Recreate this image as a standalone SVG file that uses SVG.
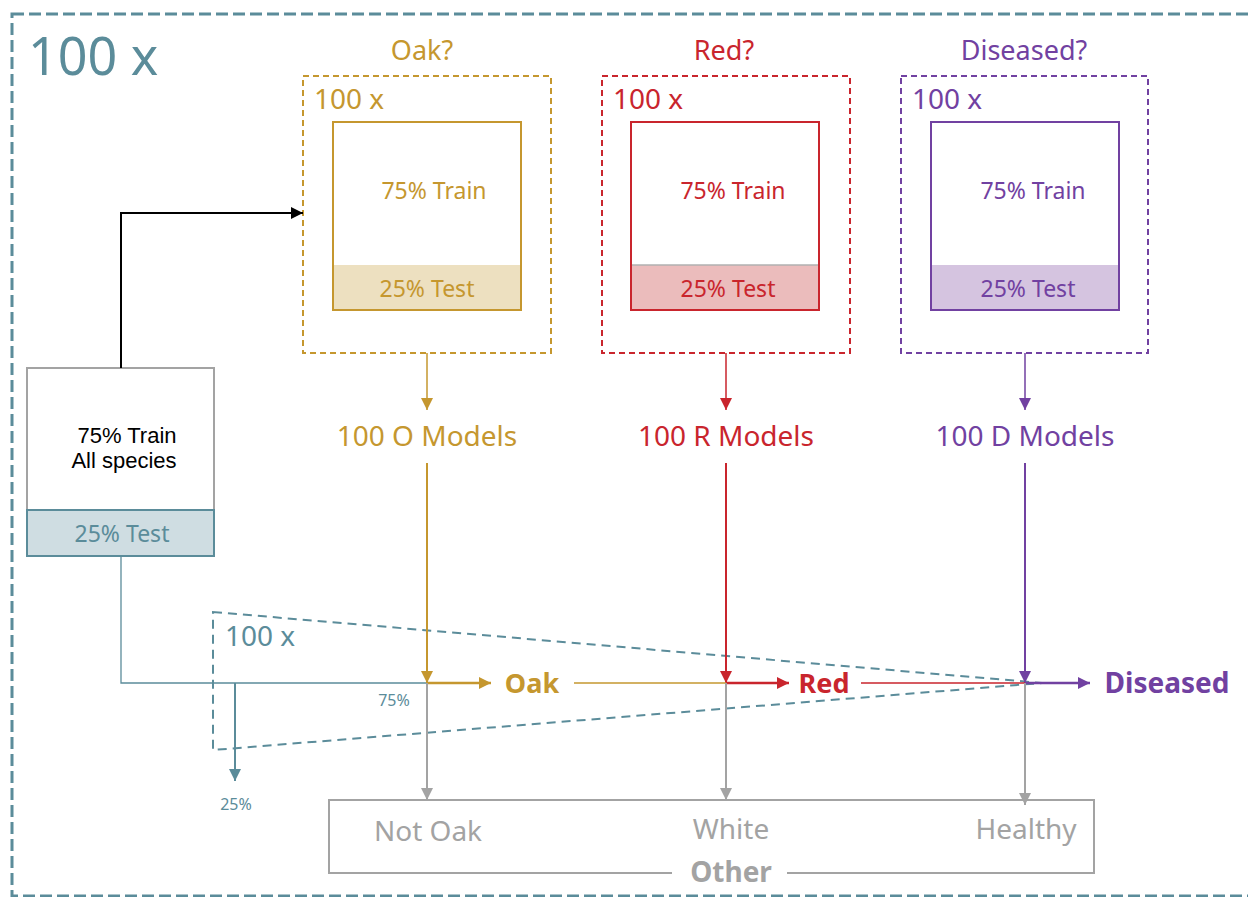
<svg xmlns="http://www.w3.org/2000/svg" width="1248" height="897" viewBox="0 0 1248 897">
<defs>
<style>
text{font-family:"Noto Sans","Open Sans",sans-serif;}
.teal{fill:#5b8c9a}.gold{fill:#c5972f}.red{fill:#c9252d}.pur{fill:#7141a1}.gry{fill:#a3a3a3}
.b{font-weight:bold}
.dash{fill:none;stroke-width:2;stroke-dasharray:6 4}
.inner{fill:#fff;stroke-width:2}
</style>
<marker id="aK" markerUnits="userSpaceOnUse" markerWidth="12" markerHeight="12" viewBox="0 0 12 12" refX="12" refY="6" orient="auto"><path d="M0,0L12,6L0,12z" fill="#000"/></marker>
<marker id="aG" markerUnits="userSpaceOnUse" markerWidth="12" markerHeight="12" viewBox="0 0 12 12" refX="12" refY="6" orient="auto"><path d="M0,0L12,6L0,12z" fill="#c5972f"/></marker>
<marker id="aR" markerUnits="userSpaceOnUse" markerWidth="12" markerHeight="12" viewBox="0 0 12 12" refX="12" refY="6" orient="auto"><path d="M0,0L12,6L0,12z" fill="#c9252d"/></marker>
<marker id="aP" markerUnits="userSpaceOnUse" markerWidth="12" markerHeight="12" viewBox="0 0 12 12" refX="12" refY="6" orient="auto"><path d="M0,0L12,6L0,12z" fill="#7141a1"/></marker>
<marker id="aT" markerUnits="userSpaceOnUse" markerWidth="12" markerHeight="12" viewBox="0 0 12 12" refX="12" refY="6" orient="auto"><path d="M0,0L12,6L0,12z" fill="#5b8c9a"/></marker>
<marker id="aY" markerUnits="userSpaceOnUse" markerWidth="12" markerHeight="12" viewBox="0 0 12 12" refX="12" refY="6" orient="auto"><path d="M0,0L12,6L0,12z" fill="#a3a3a3"/></marker>
</defs>
<rect width="1248" height="897" fill="#fff"/>

<g id="outer-frame">
<rect x="12" y="14" width="1262" height="882" fill="none" stroke="#5b8c9a" stroke-width="3" stroke-dasharray="12 5"/>
<text x="28" y="75" class="teal" font-size="52">100 x</text>
</g>

<g id="loop-frame">
<path d="M213,612 L1042,683 L213,750 Z" fill="none" stroke="#5b8c9a" stroke-width="2" stroke-dasharray="9 6"/>
<text x="225" y="646" class="teal" font-size="28">100 x</text>
</g>

<g id="oak-node">
<text x="422" y="60" class="gold" font-size="27" text-anchor="middle">Oak?</text>
<rect x="303" y="76" width="248" height="277" class="dash" stroke="#c5972f"/>
<text x="314" y="109" class="gold" font-size="28">100 x</text>
<rect x="333" y="122" width="188" height="188" class="inner" stroke="#c5972f"/>
<rect x="334" y="265" width="186" height="44" fill="#ede0c0"/>
<text x="434" y="199" class="gold" font-size="23" text-anchor="middle">75% Train</text>
<text x="427" y="297" class="gold" font-size="23" text-anchor="middle">25% Test</text>
</g>

<g id="red-node">
<text x="724" y="60" class="red" font-size="27" text-anchor="middle">Red?</text>
<rect x="602" y="76" width="248" height="277" class="dash" stroke="#c9252d"/>
<text x="613" y="109" class="red" font-size="28">100 x</text>
<rect x="631" y="122" width="188" height="188" class="inner" stroke="#c9252d"/>
<rect x="632" y="265" width="186" height="44" fill="#ebbcbc"/>
<line x1="632" y1="265" x2="818" y2="265" stroke="#b0b0b0" stroke-width="1.5"/>
<text x="733" y="199" class="red" font-size="23" text-anchor="middle">75% Train</text>
<text x="728" y="297" class="red" font-size="23" text-anchor="middle">25% Test</text>
</g>

<g id="diseased-node">
<text x="1024" y="60" class="pur" font-size="27" text-anchor="middle">Diseased?</text>
<rect x="901" y="76" width="247" height="277" class="dash" stroke="#7141a1"/>
<text x="912" y="109" class="pur" font-size="28">100 x</text>
<rect x="931" y="122" width="188" height="188" class="inner" stroke="#7141a1"/>
<rect x="932" y="265" width="186" height="44" fill="#d5c4e0"/>
<text x="1033" y="199" class="pur" font-size="23" text-anchor="middle">75% Train</text>
<text x="1028" y="297" class="pur" font-size="23" text-anchor="middle">25% Test</text>
</g>

<g id="all-species-node">
<rect x="27" y="368" width="187" height="188" fill="#fff" stroke="#a3a3a3" stroke-width="2"/>
<rect x="27" y="510" width="187" height="46" fill="#cfdde2" stroke="#5b8c9a" stroke-width="2"/>
<text x="127" y="443" font-size="22" fill="#000" text-anchor="middle" style="font-family:'Liberation Sans',Arial,sans-serif">75% Train</text>
<text x="124" y="468" font-size="22" fill="#000" text-anchor="middle" style="font-family:'Liberation Sans',Arial,sans-serif">All species</text>
<text x="122" y="542" class="teal" font-size="23" text-anchor="middle">25% Test</text>
</g>

<g id="o-models"><text x="427" y="446" class="gold" font-size="28" text-anchor="middle">100 O Models</text></g>
<g id="r-models"><text x="726" y="446" class="red" font-size="28" text-anchor="middle">100 R Models</text></g>
<g id="d-models"><text x="1025" y="446" class="pur" font-size="28" text-anchor="middle">100 D Models</text></g>

<g id="oak-label"><text x="532" y="693" class="gold b" font-size="27" text-anchor="middle">Oak</text></g>
<g id="red-label"><text x="824" y="693" class="red b" font-size="27" text-anchor="middle">Red</text></g>
<g id="diseased-label"><text x="1167" y="693" class="pur b" font-size="28" text-anchor="middle">Diseased</text></g>

<g id="other-node">
<path d="M672,873 H329 V800 H1094 V873 H787" fill="none" stroke="#a3a3a3" stroke-width="2"/>
<text x="428" y="841" class="gry" font-size="28" text-anchor="middle">Not Oak</text>
<text x="731" y="839" class="gry" font-size="28" text-anchor="middle">White</text>
<text x="1026" y="839" class="gry" font-size="28" text-anchor="middle">Healthy</text>
<text x="731" y="882" class="gry b" font-size="28" text-anchor="middle">Other</text>
</g>

<g id="connectors" fill="none">
<path d="M121,368 V213 H303" stroke="#000" stroke-width="2" marker-end="url(#aK)"/>
<path d="M121,556 V683 H427" stroke="#5b8c9a" stroke-width="1.3"/>
<path d="M235,683 V781" stroke="#5b8c9a" stroke-width="2" marker-end="url(#aT)"/>
<text x="236" y="810" class="teal" font-size="16" text-anchor="middle" stroke="none">25%</text>
<text x="394" y="706" class="teal" font-size="16" text-anchor="middle" stroke="none">75%</text>

<path d="M427,353 V410" stroke="#c5972f" stroke-width="1.5" marker-end="url(#aG)"/>
<path d="M726,353 V410" stroke="#c9252d" stroke-width="1.5" marker-end="url(#aR)"/>
<path d="M1025,353 V410" stroke="#7141a1" stroke-width="1.5" marker-end="url(#aP)"/>

<path d="M427,463 V683" stroke="#c5972f" stroke-width="2" marker-end="url(#aG)"/>
<path d="M726,463 V683" stroke="#c9252d" stroke-width="2" marker-end="url(#aR)"/>
<path d="M1025,463 V683" stroke="#7141a1" stroke-width="2" marker-end="url(#aP)"/>

<path d="M427,683 H491" stroke="#c5972f" stroke-width="2.5" marker-end="url(#aG)"/>
<path d="M574,683 H726" stroke="#c5972f" stroke-width="1.3"/>
<path d="M726,683 H789" stroke="#c9252d" stroke-width="2.5" marker-end="url(#aR)"/>
<path d="M861,683 H1025" stroke="#c9252d" stroke-width="1.3"/>
<path d="M1025,683 H1090" stroke="#7141a1" stroke-width="2.5" marker-end="url(#aP)"/>

<path d="M427,683 V800" stroke="#a3a3a3" stroke-width="2" marker-end="url(#aY)"/>
<path d="M726,683 V800" stroke="#a3a3a3" stroke-width="2" marker-end="url(#aY)"/>
<path d="M1025,683 V805" stroke="#a3a3a3" stroke-width="2" marker-end="url(#aY)"/>
</g>
</svg>
